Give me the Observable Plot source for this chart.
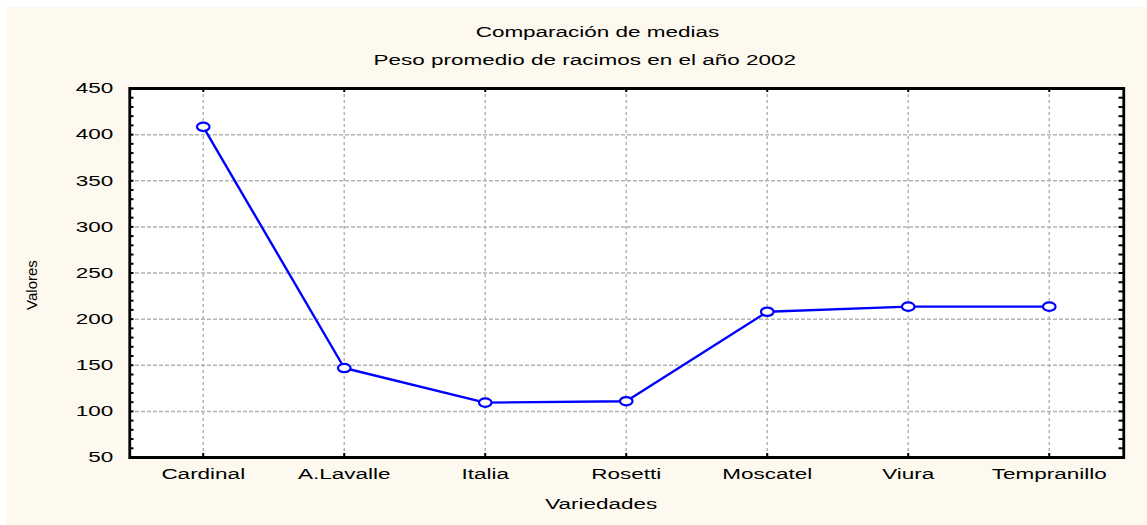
<!DOCTYPE html>
<html><head><meta charset="utf-8">
<script src="https://cdn.jsdelivr.net/npm/d3@7"></script>
<script src="https://cdn.jsdelivr.net/npm/@observablehq/plot@0.6"></script>
<style>
html,body{margin:0;padding:0;background:#fff;}
#bg{position:absolute;left:6px;top:7px;width:1141px;height:518px;background:#fdf9ee;}
#chart{position:absolute;left:0;top:0;}
#chart svg *{vector-effect:non-scaling-stroke;}
#ylabel{position:absolute;left:31px;top:285px;transform:translate(-50%,-50%) rotate(-90deg);font:15px "Liberation Sans",Arial,sans-serif;color:#000;white-space:nowrap;}
</style></head><body>
<div id="bg"></div><div id="chart"></div><div id="ylabel"></div>
<script>
const categories = ["Cardinal", "A.Lavalle", "Italia", "Rosetti", "Moscatel", "Viura", "Tempranillo"];
const values = [408.5, 147, 109.5, 111, 208, 213.5, 213.5];
const yTicks = [50, 100, 150, 200, 250, 300, 350, 400, 450];
const yMinor = d3.range(50, 451, 10);
const title = "Comparación de medias";
const subtitle = "Peso promedio de racimos en el año 2002";
const xLabel = "Variedades";
const yLabel = "Valores";

const outW = 1147, H = 525, sx = 1.5;
const W = outW / sx;
const ml = 86, mr = 16, mt = 88, mb = 68;
const fw = W - ml - mr, fh = H - mt - mb;
const data = categories.map((c, i) => ({variedad: c, valor: values[i]}));
const font = '"Liberation Sans", Arial, sans-serif';
const gridColor = "#b4b4b4";

const plot = Plot.plot({
  width: W, height: H,
  marginLeft: ml, marginRight: mr, marginTop: mt, marginBottom: mb,
  style: {background: "transparent", fontFamily: font, fontSize: "15px", color: "#000", overflow: "visible"},
  x: {type: "point", domain: categories, padding: 0.5, label: null},
  y: {domain: [50, 450], label: null},
  marks: [
    Plot.frame({fill: "white", stroke: null}),
    Plot.ruleY(yTicks.slice(1, -1), {stroke: gridColor, strokeWidth: 1.5, strokeDasharray: "4,2"}),
    Plot.ruleX(categories, {stroke: gridColor, strokeWidth: 1.5, strokeDasharray: "3,3"}),
    Plot.axisY({ticks: yTicks, tickSize: 0, tickPadding: 11, fontSize: 15, tickFormat: d => String(d)}),
    Plot.axisX({tickSize: 0, tickPadding: 11, fontSize: 15}),
    Plot.tickY(yMinor, {y: d => d, insetRight: fw - 3, stroke: "black", strokeWidth: 2}),
    Plot.tickY(yMinor, {y: d => d, insetLeft: fw - 3, stroke: "black", strokeWidth: 2}),
    Plot.tickX(categories, {x: d => d, insetBottom: fh - 4, stroke: "black", strokeWidth: 2}),
    Plot.tickX(categories, {x: d => d, insetTop: fh - 4, stroke: "black", strokeWidth: 2}),
    Plot.line(data, {x: "variedad", y: "valor", stroke: "#0000ff", strokeWidth: 2.4}),
    Plot.dot(data, {x: "variedad", y: "valor", r: 4.2, fill: "white", stroke: "#0000ff", strokeWidth: 2.2}),
    Plot.frame({stroke: "black", strokeWidth: 2.8}),
    Plot.text([title], {text: d => d, frameAnchor: "top", dx: -19.5, dy: -62, fontSize: 15, fill: "#000"}),
    Plot.text([subtitle], {text: d => d, frameAnchor: "top", dx: -28, dy: -34, fontSize: 15, fill: "#000"}),
    Plot.text([xLabel], {text: d => d, frameAnchor: "bottom", dx: -17, dy: 51, fontSize: 15, fill: "#000"})
  ]
});
plot.setAttribute("width", outW);
plot.setAttribute("height", H);
plot.setAttribute("preserveAspectRatio", "none");
plot.style.width = outW + "px";
plot.style.height = H + "px";
plot.style.maxWidth = "none";
document.getElementById("chart").appendChild(plot);
document.getElementById("ylabel").textContent = yLabel;
</script>
</body></html>
